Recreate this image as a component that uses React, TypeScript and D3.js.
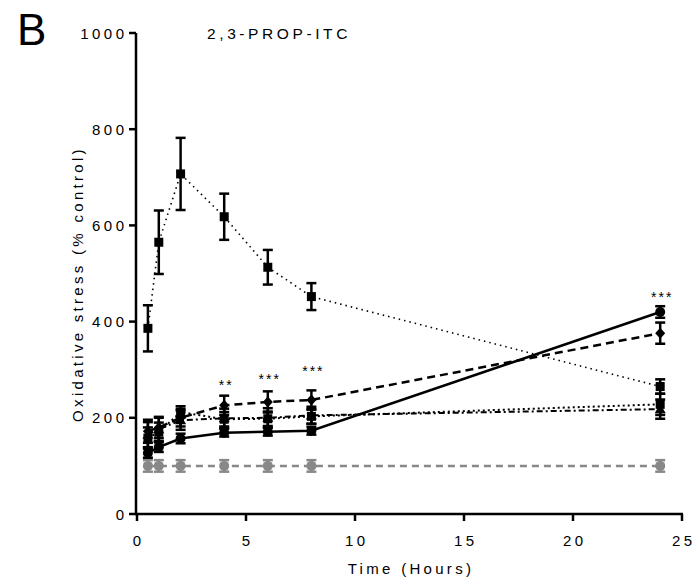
import React from "react";
import * as d3 from "d3";

const times = [0.5, 1, 2, 4, 6, 8, 24];

const dottedVals = [386, 565, 707, 618, 513, 452, 265];
const dottedErr = [48, 66, 75, 48, 36, 28, 15];

const solidVals = [127, 139, 157, 169, 171, 173, 420];
const solidErr = [10, 10, 10, 8, 8, 8, 12];

const dashedVals = [172, 180, 200, 226, 233, 237, 376];
const dashedErr = [24, 22, 18, 20, 22, 20, 22];

const dashDotVals = [165, 176, 195, 199, 200, 205, 218];
const dashDotErr = [26, 24, 20, 20, 20, 18, 20];

const dotted2Vals = [158, 170, 212, 197, 198, 203, 228];
const dotted2Err = [22, 20, 12, 15, 15, 15, 22];

const controlVals = [100, 100, 100, 100, 100, 100, 100];
const controlErr = [12, 12, 12, 12, 12, 12, 12];

const xTicks = [0, 5, 10, 15, 20, 25];
const yTicks = [0, 200, 400, 600, 800, 1000];

const starTimes = [4, 6, 8, 24];
const starLabels = ["**", "***", "***", "***"];
const starVals = [258, 270, 286, 440];

const FONT = "'Liberation Sans', Arial, sans-serif";

type Series = {
  vals: number[];
  err: number[];
  color: string;
  dash: string;
  width: number;
  marker: "square" | "circle" | "diamond" | "triangle";
};

export default function App() {
  const x = d3.scaleLinear().domain([0, 25]).range([137, 682]);
  const y = d3.scaleLinear().domain([0, 1000]).range([514, 33]);

  const series: Series[] = [
    { vals: controlVals, err: controlErr, color: "#888888", dash: "7,5", width: 2.5, marker: "circle" },
    { vals: dotted2Vals, err: dotted2Err, color: "#000", dash: "2,3", width: 2, marker: "square" },
    { vals: dashDotVals, err: dashDotErr, color: "#000", dash: "6,3,2,3", width: 2, marker: "triangle" },
    { vals: dashedVals, err: dashedErr, color: "#000", dash: "8,5", width: 2.5, marker: "diamond" },
    { vals: solidVals, err: solidErr, color: "#000", dash: "", width: 2.5, marker: "circle" },
    { vals: dottedVals, err: dottedErr, color: "#000", dash: "1.5,4", width: 1.6, marker: "square" },
  ];

  const line = d3
    .line<number>()
    .x((_, i) => x(times[i]))
    .y((d) => y(d));

  const marker = (m: Series["marker"], cx: number, cy: number, color: string, key: string) => {
    if (m === "square")
      return <rect key={key} x={cx - 4.5} y={cy - 4.5} width={9} height={9} fill={color} />;
    if (m === "circle") return <circle key={key} cx={cx} cy={cy} r={5} fill={color} />;
    if (m === "diamond")
      return (
        <path
          key={key}
          d={`M${cx},${cy - 5.5}L${cx + 5},${cy}L${cx},${cy + 5.5}L${cx - 5},${cy}Z`}
          fill={color}
        />
      );
    return (
      <path key={key} d={`M${cx},${cy - 5.5}L${cx + 5.5},${cy + 4}L${cx - 5.5},${cy + 4}Z`} fill={color} />
    );
  };

  const tickLs = 3.5;

  return (
    <svg
      width={696}
      height={581}
      style={{ display: "block", position: "absolute", left: 0, top: 0 }}
      fontFamily={FONT}
    >
      <rect x={0} y={0} width={696} height={581} fill="#fff" />
      {/* B label */}
      <text x={17} y={45} fontSize={44} fill="#000">
        B
      </text>
      {/* title */}
      <text x={207} y={39} fontSize={15.5} letterSpacing={3.6} fill="#000">
        2,3-PROP-ITC
      </text>

      {/* series lines */}
      {series.map((s, si) => (
        <path
          key={"l" + si}
          d={line(s.vals) || ""}
          fill="none"
          stroke={s.color}
          strokeWidth={s.width}
          strokeDasharray={s.dash || undefined}
        />
      ))}
      {/* error bars and markers */}
      {series.map((s, si) => (
        <g key={"e" + si}>
          {s.vals.map((v, i) => {
            const cx = x(times[i]);
            const y1 = y(v + s.err[i]);
            const y2 = y(v - s.err[i]);
            return (
              <g key={i}>
                <line x1={cx} x2={cx} y1={y1} y2={y2} stroke={s.color} strokeWidth={2.5} />
                <line x1={cx - 5} x2={cx + 5} y1={y1} y2={y1} stroke={s.color} strokeWidth={2.5} />
                <line x1={cx - 5} x2={cx + 5} y1={y2} y2={y2} stroke={s.color} strokeWidth={2.5} />
                {marker(s.marker, cx, y(v), s.color, "m" + i)}
              </g>
            );
          })}
        </g>
      ))}

      {/* stars */}
      {starTimes.map((t, i) => (
        <text
          key={"s" + i}
          x={x(t) + 2}
          y={y(starVals[i])}
          fontSize={14}
          letterSpacing={2}
          textAnchor="middle"
          fill="#000"
        >
          {starLabels[i]}
        </text>
      ))}

      {/* axes */}
      <line x1={136} x2={136} y1={y(1000)} y2={y(0) + 1} stroke="#000" strokeWidth={2.5} />
      <line x1={135} x2={x(25) + 1} y1={y(0)} y2={y(0)} stroke="#000" strokeWidth={2.5} />
      {yTicks.map((t) => (
        <g key={"yt" + t}>
          <line x1={129} x2={136} y1={y(t)} y2={y(t)} stroke="#000" strokeWidth={2.5} />
          <text
            x={124 + tickLs}
            y={y(t) + 5.5}
            fontSize={15}
            letterSpacing={tickLs}
            textAnchor="end"
            fill="#000"
          >
            {t}
          </text>
        </g>
      ))}
      {xTicks.map((t) => (
        <g key={"xt" + t}>
          <line x1={x(t)} x2={x(t)} y1={y(0)} y2={y(0) + 7} stroke="#000" strokeWidth={2.5} />
          <text
            x={x(t) + tickLs / 2}
            y={546}
            fontSize={15}
            letterSpacing={tickLs}
            textAnchor="middle"
            fill="#000"
          >
            {t}
          </text>
        </g>
      ))}
      <text x={411} y={574} fontSize={15} letterSpacing={3.3} textAnchor="middle" fill="#000">
        Time (Hours)
      </text>
      <text
        transform={`translate(83,284) rotate(-90)`}
        fontSize={15}
        letterSpacing={3.3}
        textAnchor="middle"
        fill="#000"
      >
        Oxidative stress (% control)
      </text>
    </svg>
  );
}
